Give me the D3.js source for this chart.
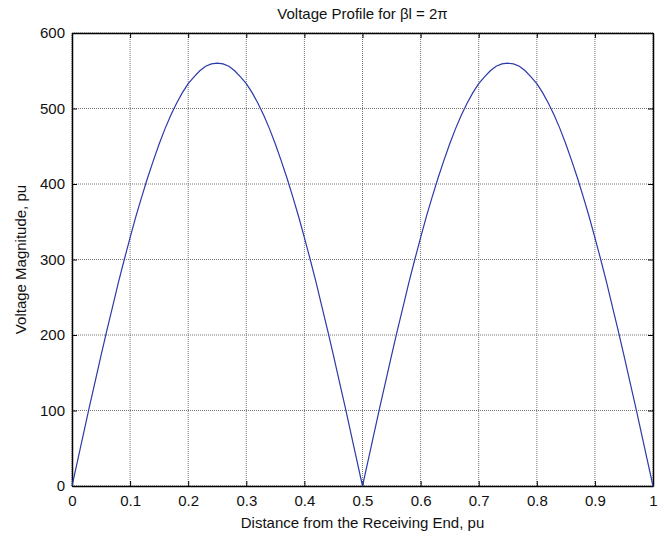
<!DOCTYPE html>
<html><head><meta charset="utf-8">
<script src="https://cdn.jsdelivr.net/npm/d3@7"></script>
<style>body{margin:0;background:#fff;} text{font-family:"Liberation Sans",Arial,Helvetica,sans-serif;}</style>
</head><body><svg id="c" width="664" height="537"></svg>
<script>
const title = "Voltage Profile for \u03b2l = 2\u03c0";
const xLabel = "Distance from the Receiving End, pu";
const yLabel = "Voltage Magnitude, pu";
const xTicks = [0,0.1,0.2,0.3,0.4,0.5,0.6,0.7,0.8,0.9,1];
const yTicks = [0,100,200,300,400,500,600];
const distance = d3.range(0,101).map(i=>i/100);
const voltage = [0,35,70,105,139,173,206,238,270,300,329,357,383,408,431,453,473,491,507,521,533,542,550,556,559,560,559,556,550,542,533,521,507,491,473,453,431,408,383,357,329,300,270,238,206,173,139,105,70,35,0,
35,70,105,139,173,206,238,270,300,329,357,383,408,431,453,473,491,507,521,533,542,550,556,559,560,559,556,550,542,533,521,507,491,473,453,431,408,383,357,329,300,270,238,206,173,139,105,70,35,0];

const svg = d3.select("#c");
const L=72,R=653,T=33,B=486;
const x = d3.scaleLinear().domain([0,1]).range([L,R]);
const y = d3.scaleLinear().domain([0,600]).range([B,T]);

// grid
const g = svg.append("g");
xTicks.forEach(t=>{ g.append("line").attr("x1",x(t)).attr("x2",x(t)).attr("y1",T).attr("y2",B)
  .attr("stroke","#777").attr("stroke-width",1).attr("stroke-dasharray","1,1"); });
yTicks.forEach(t=>{ g.append("line").attr("x1",L).attr("x2",R).attr("y1",y(t)).attr("y2",y(t))
  .attr("stroke","#777").attr("stroke-width",1).attr("stroke-dasharray","1,1"); });

// axes
const xb = svg.append("g").attr("transform",`translate(0,${B})`)
  .call(d3.axisBottom(x).tickValues(xTicks).tickFormat(d3.format("~g")).tickSizeInner(-5).tickSizeOuter(0).tickPadding(9));
const xt = svg.append("g").attr("transform",`translate(0,${T})`)
  .call(d3.axisTop(x).tickValues(xTicks).tickFormat("").tickSizeInner(-5).tickSizeOuter(0));
const yl = svg.append("g").attr("transform",`translate(${L},0)`)
  .call(d3.axisLeft(y).tickValues(yTicks).tickSizeInner(-5).tickSizeOuter(0).tickPadding(7));
const yr = svg.append("g").attr("transform",`translate(${R},0)`)
  .call(d3.axisRight(y).tickValues(yTicks).tickFormat("").tickSizeInner(-5).tickSizeOuter(0));
[xb,xt,yl,yr].forEach(a=>{
  a.selectAll("path").attr("stroke","#000").attr("stroke-width",1.5);
  a.selectAll("line").attr("stroke","#000");
  a.selectAll("text").attr("fill","#111").style("font-size","15px");
});

// line
svg.append("path").datum(distance.map((d,i)=>[d,voltage[i]]))
  .attr("fill","none").attr("stroke","#2b3aa8").attr("stroke-width",1.2)
  .attr("d", d3.line().x(d=>x(d[0])).y(d=>y(d[1])));

svg.append("text").attr("x",(L+R)/2).attr("y",19).attr("text-anchor","middle").style("font-size","15px").attr("fill","#111").text(title);
svg.append("text").attr("x",(L+R)/2).attr("y",528).attr("text-anchor","middle").style("font-size","15px").attr("fill","#111").text(xLabel);
svg.append("text").attr("transform",`translate(26,${(T+B)/2}) rotate(-90)`).attr("text-anchor","middle").style("font-size","15px").attr("fill","#111").text(yLabel);
</script></body></html>
